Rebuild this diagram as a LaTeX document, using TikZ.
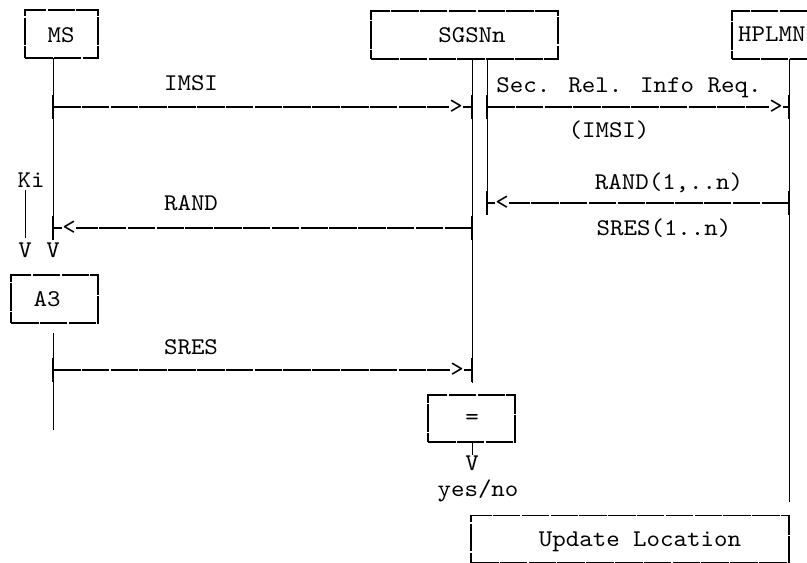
\documentclass[tikz,border=0pt]{standalone}
\usepackage{fontspec}
\newfontfamily\asciifont{lmmono10-regular.otf}[FakeStretch=1.07]
\begin{document}
\begin{tikzpicture}[x=1pt,y=-1pt,
  txt/.style={font=\asciifont\fontsize{24}{24}\selectfont, inner sep=0pt, anchor=base},
  box/.style={draw, line width=1.3pt, dash pattern=on 27.5pt off 1.3pt, inner sep=0pt},
  life/.style={line width=1pt},
  msg/.style={line width=1.4pt, dash pattern=on 27.5pt off 1.3pt},
  tick/.style={line width=1.8pt},
  tip/.style={txt, anchor=center, fill=white, inner xsep=0.6pt, inner ysep=0pt}]
\useasboundingbox (0,0) rectangle (807,563);

% boxes
\node[box, minimum width=73pt, minimum height=48pt] (ms) at (61.5,34) {};
\node[box, minimum width=187pt, minimum height=48pt] (sg) at (464.5,35) {};
\node[box, minimum width=100pt, minimum height=48pt] (hp) at (782,35) {};
\node[box, minimum width=87pt, minimum height=48pt] (a3) at (54.5,299) {};
\node[box, minimum width=87pt, minimum height=47pt] (eq) at (471.5,418.5) {};
\node[box, minimum width=318pt, minimum height=47pt] (ul) at (630,539) {};

% box texts
\node[txt] (msT) at (61,42) {MS};
\node[txt] (sgT) at (472,42) {SGSNn};
\node[txt, anchor=base west] (hpT) at (738,41) {HPLMN};
\node[txt] (a3T) at (47,306) {A3};
\node[txt] (eqT) at (472,424) {=};
\node[txt] (ulT) at (640,546) {Update Location};

% lifeline coordinates
\coordinate (msTop) at (53,58);
\coordinate (msA) at (53,237);
\coordinate (msB) at (53,333);
\coordinate (msC) at (53,430);
\coordinate (kiTop) at (25,190);
\coordinate (kiBot) at (25,238);
\coordinate (sgLtop) at (472,59);
\coordinate (sgLbot) at (472,383);
\coordinate (sgRtop) at (487,59);
\coordinate (sgRbot) at (487,214);
\coordinate (hpTop) at (789,59);
\coordinate (hpBot) at (789,502);
\coordinate (eqOut) at (472,455);

\draw[life] (msTop) -- (msA);
\draw[life] (msB) -- (msC);
\draw[life] (kiTop) -- (kiBot);
\draw[life] (sgLtop) -- (sgLbot);
\draw[life] (sgRtop) -- (sgRbot);
\draw[life] (hpTop) -- (hpBot);
\draw[life] (eq.south -| eqOut) -- (eqOut);

% message end points
\coordinate (m1a) at (53,107);  \coordinate (m1b) at (472,107);
\coordinate (m2a) at (487,107); \coordinate (m2b) at (789,107);
\coordinate (m3a) at (789,203); \coordinate (m3b) at (487,203);
\coordinate (m4a) at (472,228); \coordinate (m4b) at (53,228);
\coordinate (m5a) at (53,370);  \coordinate (m5b) at (472,370);

\foreach \c in {m1a,m1b,m2a,m2b,m3a,m3b,m4a,m4b,m5a,m5b}
  \draw[tick] ([yshift=-12pt]\c) -- ([yshift=12pt]\c);

\draw[msg] (m1a) -- (m1b);
\draw[msg] (m2a) -- (m2b);
\draw[msg] (m3a) -- (m3b);
\draw[msg] (m4a) -- (m4b);
\draw[msg] (m5a) -- (m5b);

% arrow heads (as printed characters)
\node[tip] (t1) at (456,107) {>};
\node[tip] (t2) at (776,107) {>};
\node[tip] (t3) at (502,203) {<};
\node[tip] (t4) at (69,228) {<};
\node[tip] (t5) at (457,370) {>};

% labels
\node[txt] (l1) at (191,90) {IMSI};
\node[txt] (l2) at (629,92) {Sec. Rel. Info Req.};
\node[txt] (l3) at (609,137) {(IMSI)};
\node[txt] (l4) at (669,189) {RAND(1,..n)};
\node[txt] (l5) at (664,235) {SRES(1..n)};
\node[txt] (l6) at (191,210) {RAND};
\node[txt] (l7) at (31,187) {Ki};
\node[txt] (v1) at (25,257) {V};
\node[txt] (v2) at (53,257) {V};
\node[txt] (l8) at (191,354) {SRES};
\node[txt] (v3) at (472,470) {V};
\node[txt] (l9) at (478,496) {yes/no};
\end{tikzpicture}
\end{document}
